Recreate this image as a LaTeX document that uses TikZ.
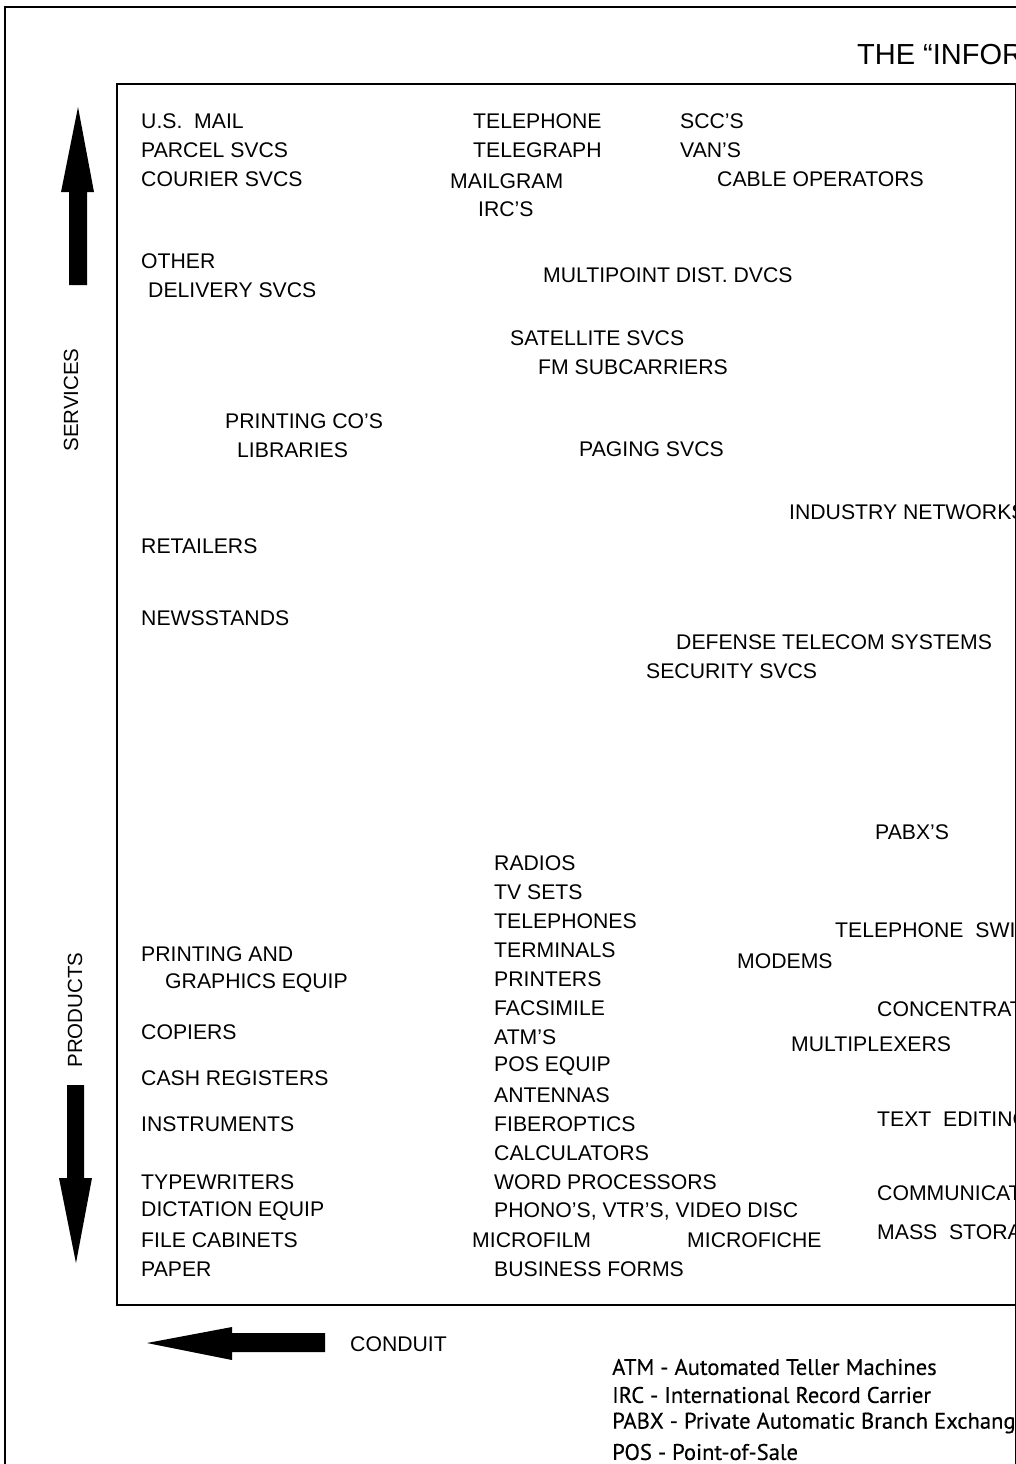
\documentclass[tikz,border=0pt]{standalone}
\usepackage{fontspec}
\setmainfont{Liberation Sans}
\newfontfamily\legendfont[FakeBold=0.4]{PT Sans}
\begin{document}
\begin{tikzpicture}[x=1pt,y=-1pt,
  lbl/.style={anchor=west,inner sep=0pt,font=\fontsize{21.2}{21}\selectfont},
  leg/.style={anchor=west,inner sep=0pt,font=\legendfont\fontsize{22.6}{22}\selectfont},
  side/.style={rotate=90,inner sep=0pt,font=\fontsize{20.5}{20}\selectfont},
  frame/.style={line width=2pt},
  bigarrow/.style={fill=black,draw=none}]
\useasboundingbox (0,0) rectangle (1016,1464);
% frames
\draw[frame] (5,1464) -- (5,7) -- (1016,7);
\draw[line width=2.5pt] (1016,84) -- (117,84) -- (117,1305) -- (1016,1305);
\draw[line width=1pt] (1015,84) -- (1015,1464);
% title
\node[anchor=west,inner sep=0pt,font=\fontsize{29}{29}\selectfont] (title) at (857,55) {THE ``INFOR};
% side labels
\node[side] (services) at (71,400) {SERVICES};
\node[side] (products) at (75,1010) {PRODUCTS};
% arrows
\fill[bigarrow] (78,107) -- (94,192) -- (87,192) -- (87,285) -- (69,285) -- (69,192) -- (61,192) -- cycle;
\fill[bigarrow] (76,1263) -- (92,1178) -- (84,1178) -- (84,1085) -- (67,1085) -- (67,1178) -- (59,1178) -- cycle;
\fill[bigarrow] (147,1343) -- (232,1327) -- (232,1333) -- (325,1333) -- (325,1352) -- (232,1352) -- (232,1360) -- cycle;
\node[lbl] (conduit) at (350,1344) {CONDUIT};
% services column 1
\node[lbl] (usmail) at (141,121) {U.S.\ \ MAIL};
\node[lbl] (parcel) at (141,150) {PARCEL SVCS};
\node[lbl] (courier) at (141,179) {COURIER SVCS};
\node[lbl] (other) at (141,261) {OTHER};
\node[lbl] (delivery) at (148,290) {DELIVERY SVCS};
\node[lbl] (printco) at (225,421) {PRINTING CO'S};
\node[lbl] (libraries) at (237,450) {LIBRARIES};
\node[lbl] (retailers) at (141,546) {RETAILERS};
\node[lbl] (newsstands) at (141,618) {NEWSSTANDS};
% services middle
\node[lbl] (telephone) at (473,121) {TELEPHONE};
\node[lbl] (telegraph) at (473,150) {TELEGRAPH};
\node[lbl] (mailgram) at (450,181) {MAILGRAM};
\node[lbl] (ircs) at (478,209) {IRC'S};
\node[lbl] (sccs) at (680,121) {SCC'S};
\node[lbl] (vans) at (680,150) {VAN'S};
\node[lbl] (cable) at (717,179) {CABLE OPERATORS};
\node[lbl] (multipoint) at (543,275) {MULTIPOINT DIST. DVCS};
\node[lbl] (satellite) at (510,338) {SATELLITE SVCS};
\node[lbl] (fm) at (538,367) {FM SUBCARRIERS};
\node[lbl] (paging) at (579,449) {PAGING SVCS};
\node[lbl] (industry) at (789,512) {INDUSTRY NETWORKS};
\node[lbl] (defense) at (676,642) {DEFENSE TELECOM SYSTEMS};
\node[lbl] (security) at (646,671) {SECURITY SVCS};
\node[lbl] (pabx) at (875,832) {PABX'S};
% products middle
\node[lbl] (radios) at (494,863) {RADIOS};
\node[lbl] (tvsets) at (494,892) {TV SETS};
\node[lbl] (telephones) at (494,921) {TELEPHONES};
\node[lbl] (terminals) at (494,950) {TERMINALS};
\node[lbl] (printers) at (494,979) {PRINTERS};
\node[lbl] (facsimile) at (494,1008) {FACSIMILE};
\node[lbl] (atms) at (494,1037) {ATM'S};
\node[lbl] (pos) at (494,1066) {POS EQUIP};
\node[lbl] (antennas) at (494,1095) {ANTENNAS};
\node[lbl] (fiber) at (494,1124) {FIBEROPTICS};
\node[lbl] (calc) at (494,1153) {CALCULATORS};
\node[lbl] (wordproc) at (494,1182) {WORD PROCESSORS};
\node[lbl] (phono) at (494,1211) {PHONO'S, VTR'S, VIDEO DISC};
\node[lbl] (microfilm) at (472,1240) {MICROFILM};
\node[lbl] (microfiche) at (687,1240) {MICROFICHE};
\node[lbl] (business) at (494,1269) {BUSINESS FORMS};
% products right
\node[lbl] (telswit) at (835,930) {TELEPHONE\ \ SWIT};
\node[lbl] (modems) at (737,961) {MODEMS};
\node[lbl] (concentrat) at (877,1009) {CONCENTRAT};
\node[lbl] (multiplexers) at (791,1044) {MULTIPLEXERS};
\node[lbl] (textedit) at (877,1119) {TEXT\ \ EDITING};
\node[lbl] (communicat) at (877,1193) {COMMUNICAT};
\node[lbl] (massstora) at (877,1232) {MASS\ \ STORA};
% products left
\node[lbl] (printing) at (141,954) {PRINTING AND};
\node[lbl] (graphics) at (165,983) {GRAPHICS EQUIP};
\node[lbl] (copiers) at (141,1032) {COPIERS};
\node[lbl] (cash) at (141,1078) {CASH REGISTERS};
\node[lbl] (instruments) at (141,1124) {INSTRUMENTS};
\node[lbl] (typewriters) at (141,1182) {TYPEWRITERS};
\node[lbl] (dictation) at (141,1211) {DICTATION EQUIP};
\node[lbl] (filecab) at (141,1240) {FILE CABINETS};
\node[lbl] (paper) at (141,1269) {PAPER};
% legend
\node[leg] (legatm) at (612,1367) {ATM - Automated Teller Machines};
\node[leg] (legirc) at (612,1395) {IRC - International Record Carrier};
\node[leg] (legpabx) at (612,1423) {PABX - Private Automatic Branch Exchange};
\node[leg] (legpos) at (612,1452) {POS - Point-of-Sale};
\end{tikzpicture}
\end{document}
